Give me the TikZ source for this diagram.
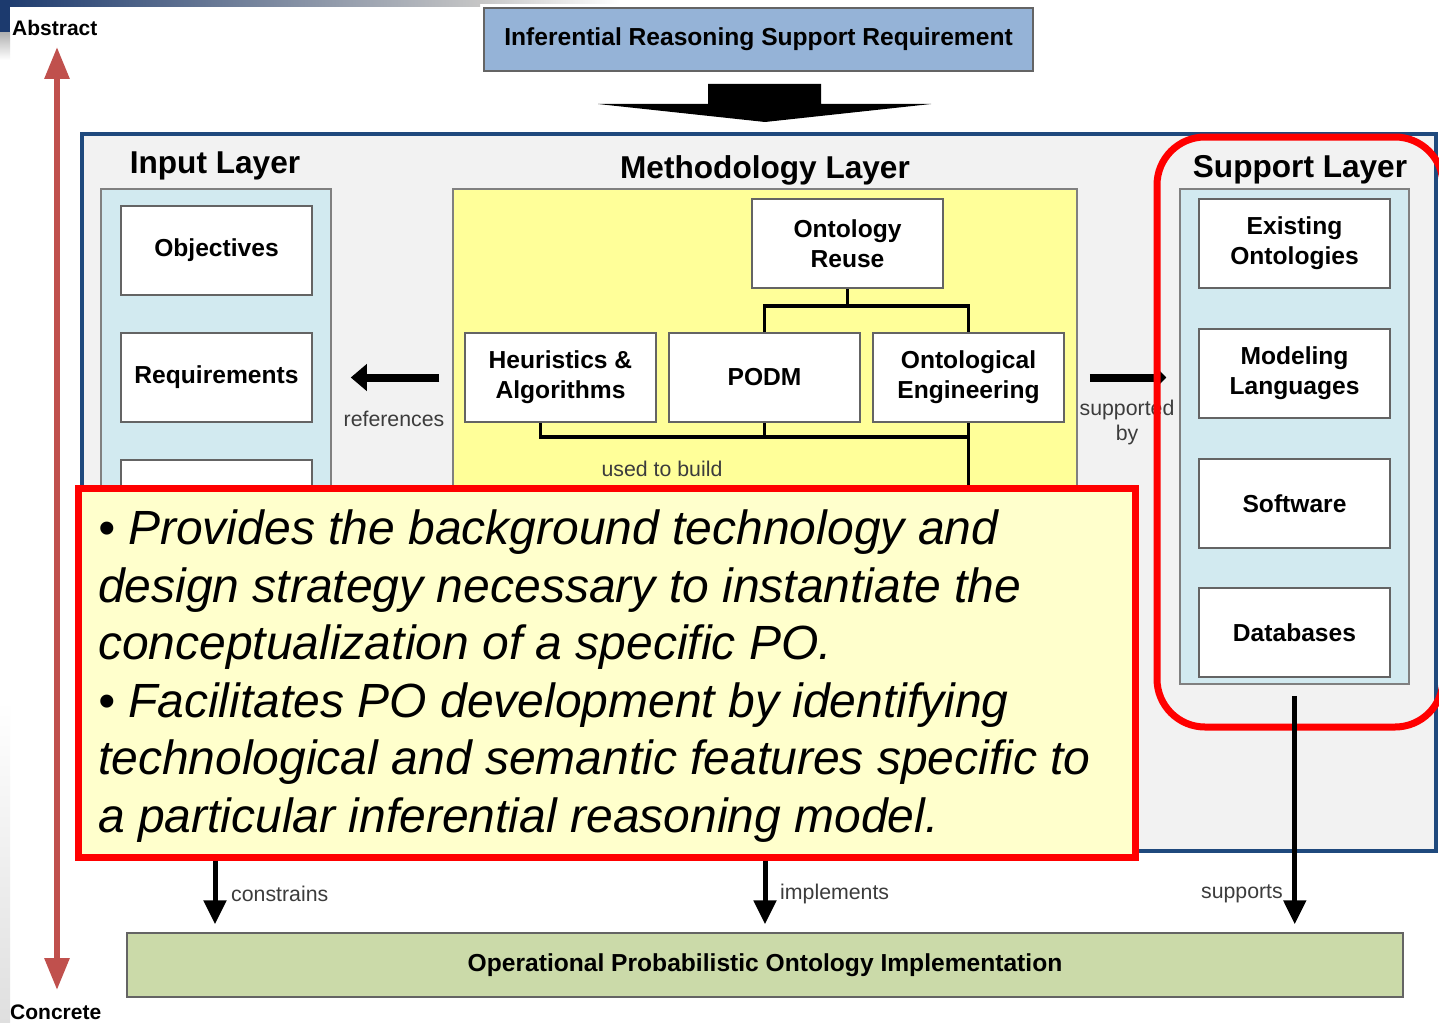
\documentclass[tikz,border=0pt]{standalone}
\usepackage{fontspec}
\setmainfont{Liberation Sans}
\usetikzlibrary{arrows.meta,calc}

\definecolor{navyband}{RGB}{28,58,110}
\definecolor{framblue}{RGB}{31,73,125}
\definecolor{framefill}{RGB}{242,242,242}
\definecolor{panelblue}{RGB}{210,234,240}
\definecolor{panelyellow}{RGB}{255,255,153}
\definecolor{notefill}{RGB}{255,255,204}
\definecolor{boxgray}{RGB}{100,100,100}
\definecolor{reqblue}{RGB}{149,179,215}
\definecolor{implgreen}{RGB}{203,218,169}
\definecolor{axisred}{RGB}{192,80,77}
\definecolor{lblgray}{RGB}{60,60,60}

\newcommand\bxfont{\fontsize{24.6}{30}\selectfont\bfseries}
\newcommand\ttlfont{\fontsize{31.6}{36}\selectfont\bfseries}
\newcommand\lblfont{\fontsize{21.3}{25}\selectfont}
\newcommand\notefont{\fontsize{48}{57.5}\selectfont\itshape}

\begin{document}
\begin{tikzpicture}[x=1pt,y=-1pt,
  box/.style={draw=boxgray, line width=1.5pt, fill=white, minimum width=191pt,
    minimum height=89pt, inner sep=0pt, align=center, font=\bxfont},
  panel/.style={draw=gray, line width=1.5pt, inner sep=0pt},
  title/.style={font=\ttlfont, text=black},
  lbl/.style={font=\lblfont, text=lblgray, inner sep=0pt, align=center},
  conn/.style={line width=3.5pt},
  sidearrow/.style={line width=8pt, -{Triangle[length=16pt,width=26pt]}},
  smallarrow/.style={line width=8pt, -{Triangle[length=8pt,width=16pt]}},
  downarrow/.style={line width=5pt, -{Triangle[length=24pt,width=22pt]}},
  axis/.style={axisred, line width=6pt, {Triangle[length=32pt,width=24pt]}-{Triangle[length=32pt,width=24pt]}}
]
\useasboundingbox (0,0) rectangle (1439,1022);
\clip (0,0) rectangle (1439,1022);
\fill[white] (0,0) rectangle (1439,1022);

% slide background trim
\fill[left color=navyband, right color=gray!45] (0,0) rectangle (480,7);
\fill[left color=gray!45, right color=white] (480,0) rectangle (620,4);
\fill[navyband] (0,0) rectangle (10,33);
\fill[top color=gray!60, bottom color=white] (0,33) rectangle (10,60);
\fill[top color=white, bottom color=gray!25] (0,700) rectangle (10,1022);

% top requirement and the big down arrow
\node[draw=boxgray, line width=1.5pt, fill=reqblue, minimum width=549pt, minimum height=63pt,
  inner sep=0pt, font=\fontsize{24.6}{29}\selectfont\bfseries] (req) at (758.5,39.5)
  {Inferential Reasoning Support Requirement};
\fill (708,84) -- (821,84) -- (821,104) -- (931,104) -- (765,122) -- (598,104) -- (708,104) -- cycle;

% outer frame
\node[draw=framblue, line width=4pt, fill=framefill, minimum width=1354pt, minimum height=717pt,
  inner sep=0pt] (frame) at (759,492.5) {};

% layer panels
\node[panel, fill=panelblue, minimum width=230pt, minimum height=651pt] (ipanel) at (216,514.5) {};
\node[panel, fill=panelyellow, minimum width=624pt, minimum height=651pt] (mpanel) at (765,514.5) {};
\node[panel, fill=panelblue, minimum width=229pt, minimum height=495pt] (spanel) at (1294.5,436.5) {};

\node[title] at (215,166) {Input Layer};
\node[title] at (765,170) {Methodology Layer};
\node[title] at (1300,170) {Support Layer};

% input layer
\node[box] (obj) at (216.5,250.5) {Objectives};
\node[box] (rq) at (216.5,377.5) {Requirements};
\node[box] (in3) at (216.5,504.5) {};

% methodology layer
\node[box] (reuse) at (847.5,243.5) {Ontology\\Reuse};
\node[box] (ha) at (560.5,377.5) {Heuristics \&\\Algorithms};
\node[box] (podm) at (764.5,377.5) {PODM};
\node[box] (oe) at (968.5,377.5) {Ontological\\Engineering};

\coordinate (topbus) at (0,306);
\coordinate (botbus) at (0,437);
\draw[conn] (reuse.south) -- (reuse.south |- topbus);
\draw[conn] (podm.north) |- (topbus -| oe.north) -- (oe.north);
\draw[conn] ($(ha.south)+(-20,0)$) |- (botbus -| oe.south);
\draw[conn] (podm.south) -- (podm.south |- botbus);
\draw[conn] (oe.south) -- ++(0,120);
\node[lbl] at (662,469) {used to build};

% support layer
\node[box] (eo) at (1294.5,243.5) {Existing\\Ontologies};
\node[box] (ml) at (1294.5,373.5) {Modeling\\Languages};
\node[box] (sw) at (1294.5,503.5) {Software};
\node[box] (db) at (1294.5,632.5) {Databases};

% arrows between layers
\draw[sidearrow] ($(mpanel.west |- rq.center)+(-13,0)$) -- ($(ipanel.east |- rq.center)+(19,0)$);
\node[lbl] at (394,419) {references};
\draw[smallarrow] ($(mpanel.east |- rq.center)+(12,0)$) -- ($(spanel.west |- rq.center)+(-13,0)$);
\node[lbl] at (1127,422) {supported\\by};

% support layer highlight
\draw[red, line width=7pt, rounded corners=48pt] (1157,137) rectangle (1443,727);

% implementation box
\node[draw=boxgray, line width=1.5pt, fill=implgreen, minimum width=1276pt, minimum height=64pt,
  inner sep=0pt, font=\fontsize{24.6}{29}\selectfont\bfseries] (impl) at (765,965)
  {Operational Probabilistic Ontology Implementation};

\draw[downarrow, shorten <=11pt, shorten >=8pt] (spanel.south -| impl.north east) ++(-109,0) coordinate (sup0)
  (sup0) -- (sup0 |- impl.north);
\node[lbl, anchor=east] at (1283,894) {supports};

% explanatory note
\node[draw=red, line width=7pt, fill=notefill, minimum width=1057pt, minimum height=369pt,
  inner sep=0pt] (note) at (606.5,672.5) {};
\node[anchor=north west, inner sep=0pt, align=left, font=\notefont] (notetext) at (98,510)
  {\textbullet\ Provides the background technology and\\
   design strategy necessary to instantiate the\\
   conceptualization of a specific PO.\\
   \textbullet\ Facilitates PO development by identifying\\
   technological and semantic features specific to\\
   a particular inferential reasoning model.};

\coordinate (cx) at (215,0);
\coordinate (ix) at (765,0);
\draw[downarrow, shorten >=8pt] (note.south -| cx) -- (impl.north -| cx);
\node[lbl, anchor=west] at (231,894) {constrains};
\draw[downarrow, shorten >=8pt] (note.south -| ix) -- (impl.north -| ix);
\node[lbl, anchor=west] at (780,894) {implements};

% abstraction axis
\draw[axis] (57,47) -- (57,990);
\node[font=\fontsize{21}{25}\selectfont\bfseries, anchor=west, inner sep=0pt] (abs) at (12,28) {Abstract};
\node[font=\fontsize{21}{25}\selectfont\bfseries, anchor=west, inner sep=0pt] (con) at (10,1012) {Concrete};
\end{tikzpicture}
\end{document}
